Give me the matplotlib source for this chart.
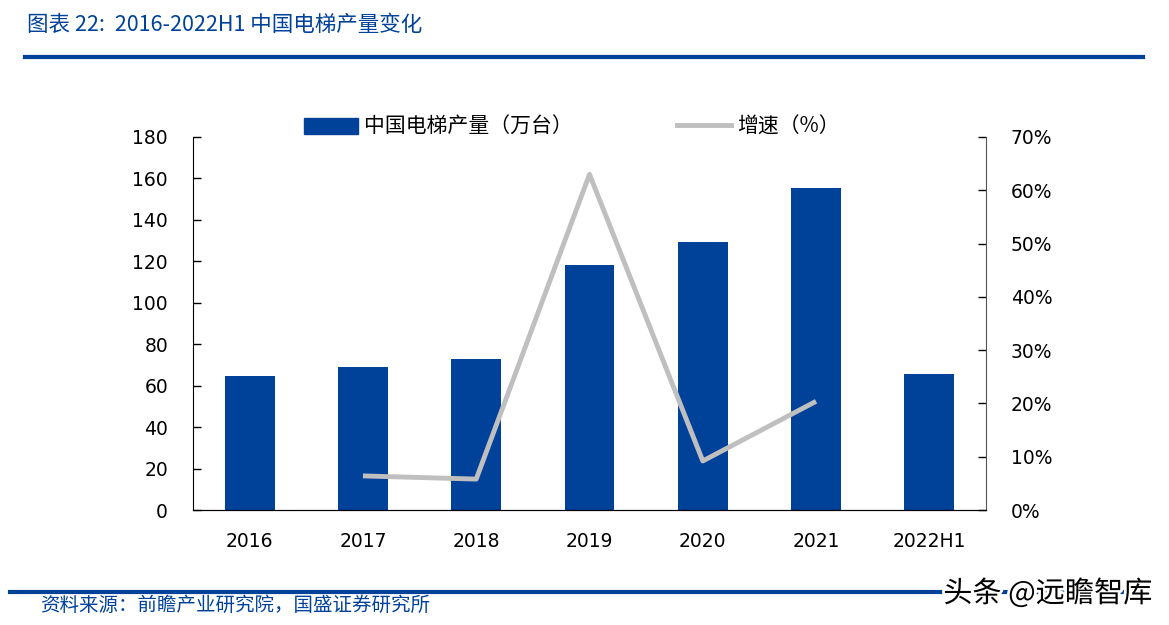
import matplotlib
matplotlib.use('Agg')
import matplotlib.pyplot as plt
from matplotlib.lines import Line2D
from matplotlib.patches import Patch
import matplotlib.patheffects as pe

plt.rcParams['font.family'] = ['DejaVu Sans', 'Noto Sans CJK SC']

# data
years = ["2016", "2017", "2018", "2019", "2020", "2021", "2022H1"]
output = [64.7, 69.0, 72.9, 118.2, 129.3, 155.4, 65.6]   # 万台
growth_years = ["2017", "2018", "2019", "2020", "2021"]
growth = [6.4, 5.8, 63.0, 9.2, 20.4]                      # %

blue = "#00419A"
gray = "#BFBFBF"
cjk = ['Noto Sans CJK SC', 'DejaVu Sans']

fig = plt.figure(figsize=(11.69, 6.25), dpi=100)
ax = fig.add_axes([193/1169, 1-510/625, (986-193)/1169, (510-137)/625])
ax2 = ax.twinx()

x = list(range(len(years)))
ax.bar(x, output, width=0.44, color=blue, zorder=2)
gx = [years.index(y) for y in growth_years]
ax2.plot(gx, growth, color=gray, lw=3.5, solid_capstyle='butt', zorder=3)

ax.set_xlim(-0.5, len(years)-0.5)
ax.set_ylim(0, 180)
ax.set_yticks(range(0, 181, 20))
ax2.set_ylim(0, 70)
ax2.set_yticks(range(0, 71, 10))
ax2.set_yticklabels([f"{v}%" for v in range(0, 71, 10)])
ax.set_xticks(x)
ax.set_xticklabels(years)

for a in (ax, ax2):
    a.spines['top'].set_visible(False)
    a.tick_params(labelsize=13.5, length=6, width=1, colors='black')
ax.spines['right'].set_visible(False)
ax2.spines['left'].set_visible(False)
ax2.spines['right'].set_color('#555555')
ax.tick_params(axis='x', length=0, pad=16)
ax.tick_params(axis='y', direction='in', pad=18)
ax2.tick_params(axis='y', direction='in', pad=18)

# legend
handles = [Patch(facecolor=blue, edgecolor=blue), Line2D([], [], color=gray, lw=3.5)]
labels = ["中国电梯产量（万台）", "增速（%）"]
leg = fig.legend(handles, labels, loc='center', bbox_to_anchor=(572/1169, 1-127/625), ncol=2,
                 frameon=False, prop={'family': cjk, 'size': 15}, columnspacing=5,
                 handlelength=2.6, handleheight=0.8, handletextpad=0.3)

# title & rules
fig.text(27/1169, 1-25/625, "图表 22:  2016-2022H1 中国电梯产量变化", color=blue, fontsize=15.5,
         style='italic', family=cjk, va='center', ha='left')
fig.add_artist(Line2D([25/1169, 1143/1169], [1-57/625]*2, color=blue, lw=3))
fig.add_artist(Line2D([10/1169, 1143/1169], [1-592/625]*2, color=blue, lw=3))
fig.text(40/1169, 1-605/625, "资料来源：前瞻产业研究院，国盛证券研究所", color=blue, fontsize=14,
         style='italic', family=cjk, va='center', ha='left')
fig.text(1152/1169, 1-594/625, "头条 @远瞻智库", color='black', fontsize=21, family=cjk,
         va='center', ha='right',
         path_effects=[pe.withStroke(linewidth=4, foreground='white')])

fig.savefig("out.png", dpi=100)
